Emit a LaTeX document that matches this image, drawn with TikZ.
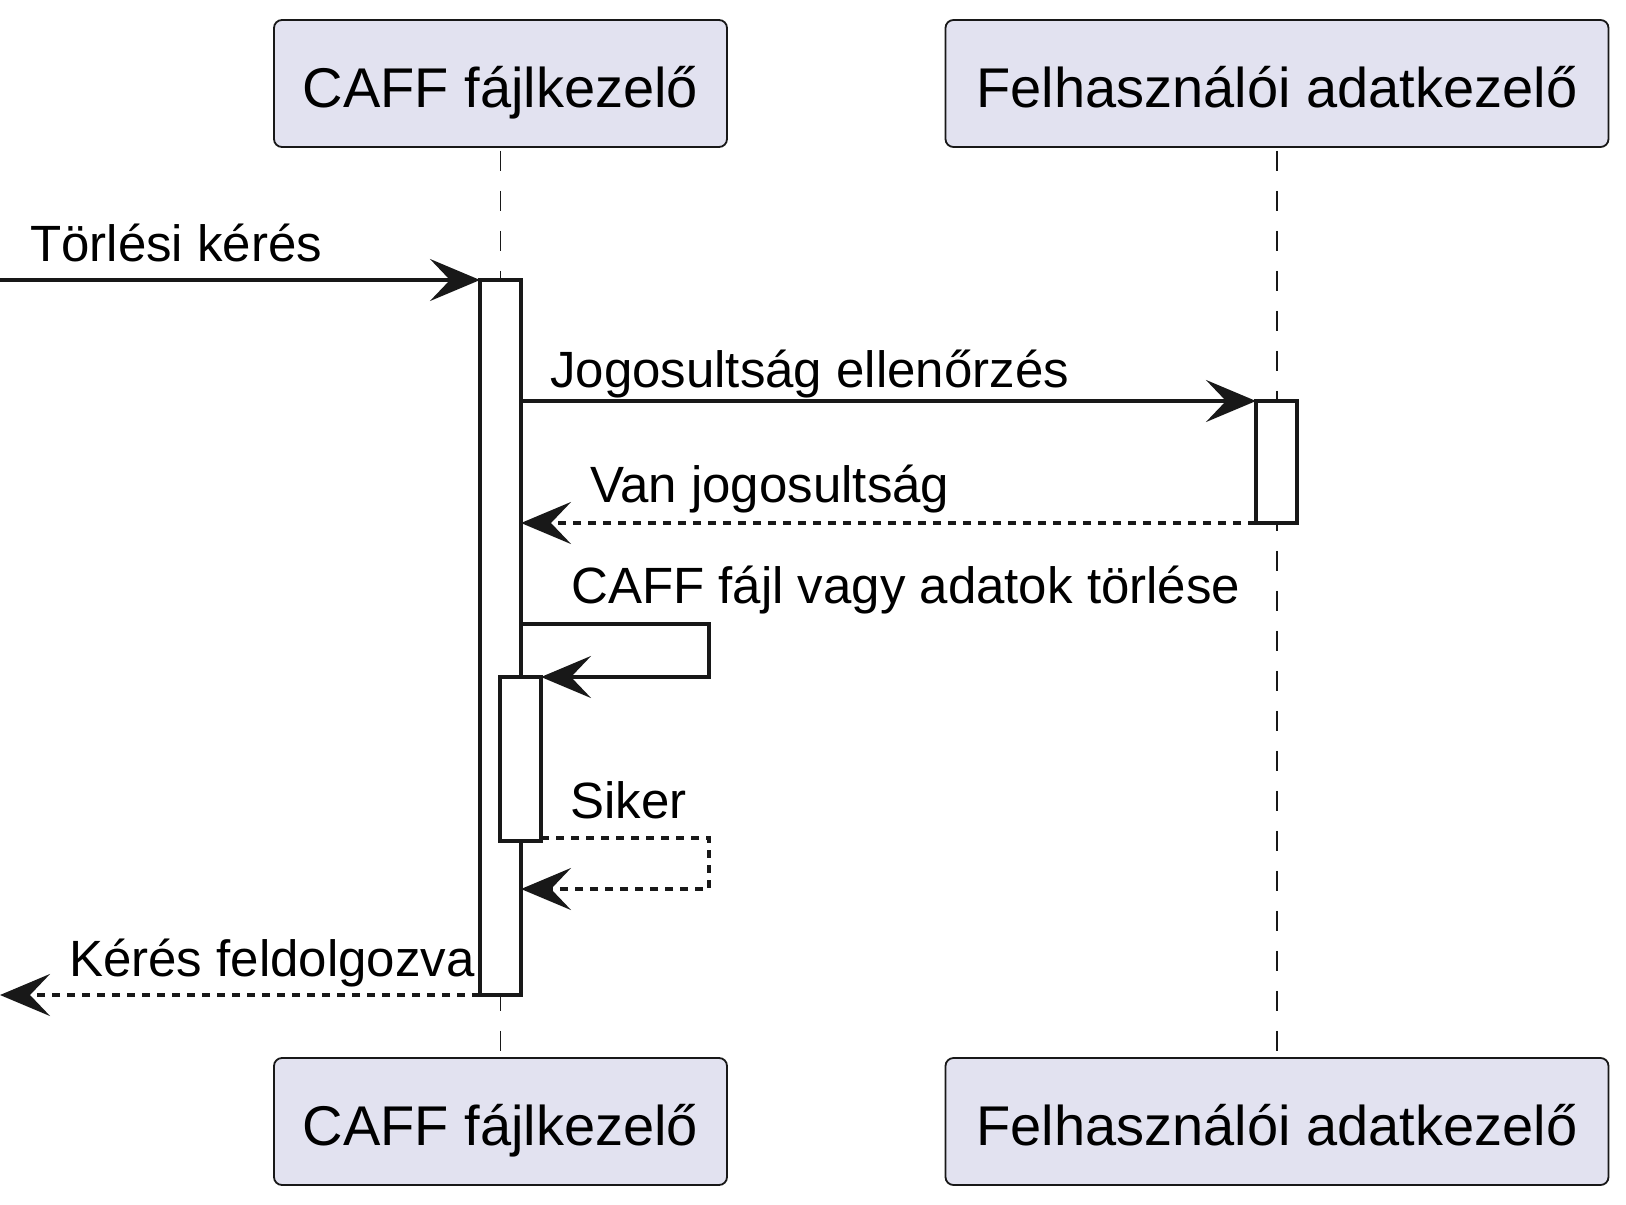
\documentclass[tikz,border=0pt]{standalone}
\usepackage{fontspec}
\setmainfont{Liberation Sans}
\usetikzlibrary{arrows.meta}
\definecolor{partfill}{HTML}{E2E2F0}
\definecolor{lineclr}{HTML}{181818}
\tikzset{
  participant/.style={draw=lineclr, line width=1.8pt, fill=partfill, rounded corners=8pt,
    inner sep=0pt, text height=47pt, text depth=0pt,
    font=\fontsize{56}{60}\selectfont},
  actbox/.style={draw=lineclr, line width=4pt, fill=white, inner sep=0pt, outer sep=0pt,
    minimum width=41pt, anchor=north},
  lifeline/.style={draw=lineclr, line width=1.8pt, dash pattern=on 20pt off 20pt},
  msg/.style={draw=lineclr, line width=3.8pt, -{Stealth[length=50pt, width=42pt, inset=20pt]}},
  reply/.style={msg, dash pattern=on 8pt off 7pt},
  msglabel/.style={anchor=base west, inner sep=0pt, font=\fontsize{51}{55}\selectfont}
}
\begin{document}
\begin{tikzpicture}[x=1pt,y=-1pt]
\useasboundingbox (0,0) rectangle (1626,1205);
% participants
\node[participant, minimum width=453pt, minimum height=127pt] (p1top) at (500.5,83.5) {CAFF fájlkezelő};
\node[participant, minimum width=663pt, minimum height=127pt] (p2top) at (1277,83.5) {Felhasználói adatkezelő};
\node[participant, minimum width=453pt, minimum height=127pt] (p1bot) at (500.5,1121.5) {CAFF fájlkezelő};
\node[participant, minimum width=663pt, minimum height=127pt] (p2bot) at (1277,1121.5) {Felhasználói adatkezelő};
% lifelines
\draw[lifeline] ([yshift=-3pt]p1top.south) -- (p1bot.north);
\draw[lifeline] ([yshift=-3pt]p2top.south) -- (p2bot.north);
% activations
\node[actbox, minimum height=715pt] (act1) at (500.5,280) {};
\node[actbox, minimum height=122pt] (act2) at (1276.5,401) {};
\node[actbox, minimum height=164pt] (act3) at (520.5,677) {};
% coordinates for free ends and bends
\coordinate (start) at (0,280);
\coordinate (finish) at (0,995);
\coordinate (selfA) at (709,624);
\coordinate (selfB) at (709,677);
\coordinate (sikA) at (709,838);
\coordinate (sikB) at (709,889);
% messages
\draw[msg] (start) -- (act1.north west |- start);
\draw[msg] (act1.east |- act2.north) -- (act2.north west);
\draw[reply] (act2.south west) -- (act1.east |- act2.south);
\draw[msg] (act1.east |- selfA) -- (selfA) -- (selfB) -- (act3.north east);
\draw[reply] (act3.east |- sikA) -- (sikA) -- (sikB) -- (act1.east |- sikB);
\draw[reply] (act1.south west) -- (finish |- act1.south west);
% labels
\node[msglabel] (l1) at (30,261) {Törlési kérés};
\node[msglabel] (l2) at (550,387) {Jogosultság ellenőrzés};
\node[msglabel] (l3) at (590,502) {Van jogosultság};
\node[msglabel] (l4) at (571,603) {CAFF fájl vagy adatok törlése};
\node[msglabel] (l5) at (570,818) {Siker};
\node[msglabel] (l6) at (69,976) {Kérés feldolgozva};
\end{tikzpicture}
\end{document}
